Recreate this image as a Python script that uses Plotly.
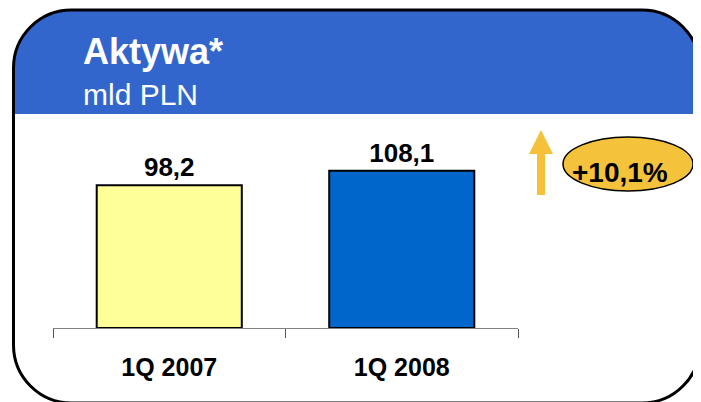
import plotly.graph_objects as go

# data
categories = ["1Q 2007", "1Q 2008"]
values = [98.2, 108.1]
bar_colors = ["#FFFF99", "#0066CC"]
title = "Aktywa*"
subtitle = "mld PLN"

W, H = 701, 402
OFF = 8  # page body margin: the figure starts 8px into the window
FONT = "Liberation Sans, Arial, sans-serif"


def fx(x):
    return (x - OFF) / W


def fy(y):
    return 1 - (y - OFF) / H


def pt(x, y):
    return f"{fx(x):.5f},{fy(y):.5f}"


K = 0.5523


def corner(xs, ys, xe, ye, cx, cy):
    # cubic approximation of a quarter arc from (xs,ys) to (xe,ye), corner at (cx,cy)
    c1 = (xs + (cx - xs) * K, ys + (cy - ys) * K)
    c2 = (xe + (cx - xe) * K, ye + (cy - ye) * K)
    return f" C{pt(*c1)} {pt(*c2)} {pt(xe, ye)}"


L, R, T, B, r = 13.5, 700, 10, 403, 58
HEAD_BOTTOM = 114

header = (f"M{pt(L, HEAD_BOTTOM)} L{pt(L, T + r)}"
          + corner(L, T + r, L + r, T, L, T)
          + f" L{pt(R - r, T)}"
          + corner(R - r, T, R, T + r, R, T)
          + f" L{pt(R, HEAD_BOTTOM)} Z")

frame = (f"M{pt(L, T + r)}"
         + corner(L, T + r, L + r, T, L, T)
         + f" L{pt(R - r, T)}"
         + corner(R - r, T, R, T + r, R, T)
         + f" L{pt(R, B - r)}"
         + corner(R, B - r, R - r, B, R, B)
         + f" L{pt(L + r, B)}"
         + corner(L + r, B, L, B - r, L, B)
         + " Z")

arrow = (f"M{pt(537, 195)} L{pt(537, 154)} L{pt(529, 154)} L{pt(541, 130)}"
         f" L{pt(553, 154)} L{pt(545, 154)} L{pt(545, 195)} Z")

change = (values[1] / values[0] - 1) * 100
change_text = f"+{change:.1f}%".replace(".", ",")

fig = go.Figure(go.Bar(
    x=categories,
    y=values,
    marker=dict(color=bar_colors, line=dict(color="black", width=2)),
    text=[f"{v:.1f}".replace(".", ",") for v in values],
    textposition="outside",
    textfont=dict(family=FONT, size=26, color="black", weight="bold"),
    cliponaxis=False,
    hoverinfo="skip",
))

fig.update_layout(
    width=W, height=H,
    margin=dict(l=0, r=0, t=0, b=0),
    paper_bgcolor="white",
    plot_bgcolor="rgba(0,0,0,0)",
    showlegend=False,
    bargap=0.376,
    xaxis=dict(
        domain=[fx(53), fx(518)],
        type="category",
        range=[-0.5, 1.5],
        showline=True, linecolor="#808080", linewidth=1,
        ticks="outside", tickson="boundaries", ticklen=9, tickcolor="#555555",
        tickfont=dict(family=FONT, size=25, color="black", weight="bold"),
        ticklabelstandoff=17,
        showgrid=False, zeroline=False,
    ),
    yaxis=dict(
        domain=[fy(328), fy(HEAD_BOTTOM)],
        range=[0, 147.2],
        visible=False,
    ),
    shapes=[
        dict(type="path", path=header, xref="paper", yref="paper",
             fillcolor="#3366CC", line=dict(width=0), layer="below"),
        dict(type="path", path=frame, xref="paper", yref="paper",
             line=dict(color="black", width=3)),
        dict(type="path", path=arrow, xref="paper", yref="paper",
             fillcolor="#F5C13A", line=dict(width=0)),
        dict(type="circle", xref="paper", yref="paper",
             x0=fx(563), x1=fx(693), y0=fy(191), y1=fy(137),
             fillcolor="#F5C33B", line=dict(color="black", width=1.5)),
    ],
    annotations=[
        dict(text=f"<b>{title}</b>", x=fx(81), y=fy(52), xref="paper", yref="paper",
             xanchor="left", yanchor="middle", showarrow=False,
             font=dict(family=FONT, size=36, color="white")),
        dict(text=subtitle, x=fx(81), y=fy(94), xref="paper", yref="paper",
             xanchor="left", yanchor="middle", showarrow=False,
             font=dict(family=FONT, size=30, color="white")),
        dict(text=f"<b>{change_text}</b>", x=fx(620), y=fy(173), xref="paper", yref="paper",
             xanchor="center", yanchor="middle", showarrow=False,
             font=dict(family=FONT, size=28, color="black")),
    ],
)

fig.write_html("out.html")
